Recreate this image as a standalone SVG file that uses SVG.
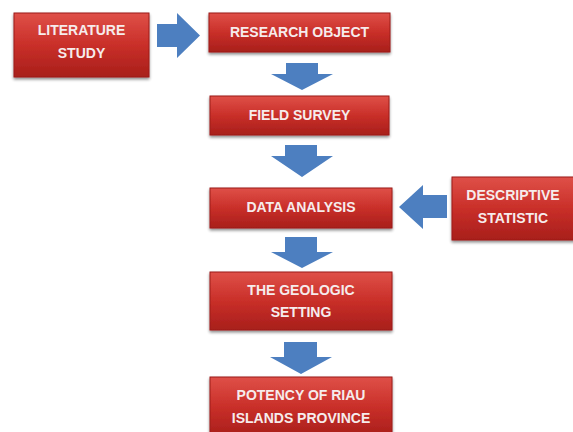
<svg xmlns="http://www.w3.org/2000/svg" width="573" height="432" viewBox="0 0 573 432">
<defs>
<linearGradient id="red" x1="0" y1="0" x2="0" y2="1">
<stop offset="0" stop-color="#df5048"/>
<stop offset="0.5" stop-color="#c92f29"/>
<stop offset="1" stop-color="#a81f1b"/>
</linearGradient>
<filter id="sh" x="-10%" y="-10%" width="120%" height="130%">
<feGaussianBlur in="SourceAlpha" stdDeviation="1.5"/>
<feOffset dx="0" dy="2" result="b"/>
<feComponentTransfer><feFuncA type="linear" slope="0.45"/></feComponentTransfer>
<feMerge><feMergeNode/><feMergeNode in="SourceGraphic"/></feMerge>
</filter>
</defs>
<style>
.box{fill:url(#red);stroke:#9c1c18;stroke-width:1;filter:url(#sh)}
.t{font-family:"Liberation Sans",Arial,sans-serif;font-weight:bold;font-size:14px;fill:#f6ecec;text-anchor:middle}
.arr{fill:#4d7fc0}
</style>
<rect width="573" height="432" fill="#ffffff"/>
<g id="connectors">
<polygon class="arr" points="157,24 177,24 177,13 200,35.5 177,58 177,47 157,47"/>
<polygon class="arr" points="286,63 318,63 318,74 333,74 302,90 271,74 286,74"/>
<polygon class="arr" points="285,145 317,145 317,156 333,156 302,177 271,156 285,156"/>
<polygon class="arr" points="447,195 423,195 423,185 399,207 423,229 423,218 447,218"/>
<polygon class="arr" points="285,237 317,237 317,252 333,252 302,268 271,252 285,252"/>
<polygon class="arr" points="284,342 317,342 317,357 332,357 301,374 270,357 284,357"/>
</g>
<g id="literature">
<rect class="box" x="14" y="13" width="135" height="64"/>
<text class="t" x="81.5" y="35">LITERATURE</text>
<text class="t" x="81.5" y="58">STUDY</text>
</g>
<g id="research">
<rect class="box" x="209" y="13" width="181" height="39"/>
<text class="t" x="299.5" y="37">RESEARCH OBJECT</text>
</g>
<g id="field">
<rect class="box" x="210" y="96" width="179" height="39"/>
<text class="t" x="299.5" y="120">FIELD SURVEY</text>
</g>
<g id="analysis">
<rect class="box" x="210" y="188" width="182" height="40"/>
<text class="t" x="301" y="212">DATA ANALYSIS</text>
</g>
<g id="descriptive">
<rect class="box" x="452" y="177" width="125" height="63"/>
<text class="t" x="513" y="200">DESCRIPTIVE</text>
<text class="t" x="513" y="223">STATISTIC</text>
</g>
<g id="geologic">
<rect class="box" x="210" y="272" width="182" height="58"/>
<text class="t" x="301" y="295">THE GEOLOGIC</text>
<text class="t" x="301" y="317">SETTING</text>
</g>
<g id="potency">
<rect class="box" x="210" y="377" width="182" height="60"/>
<text class="t" x="301" y="400">POTENCY OF RIAU</text>
<text class="t" x="301" y="423">ISLANDS PROVINCE</text>
</g>
</svg>
